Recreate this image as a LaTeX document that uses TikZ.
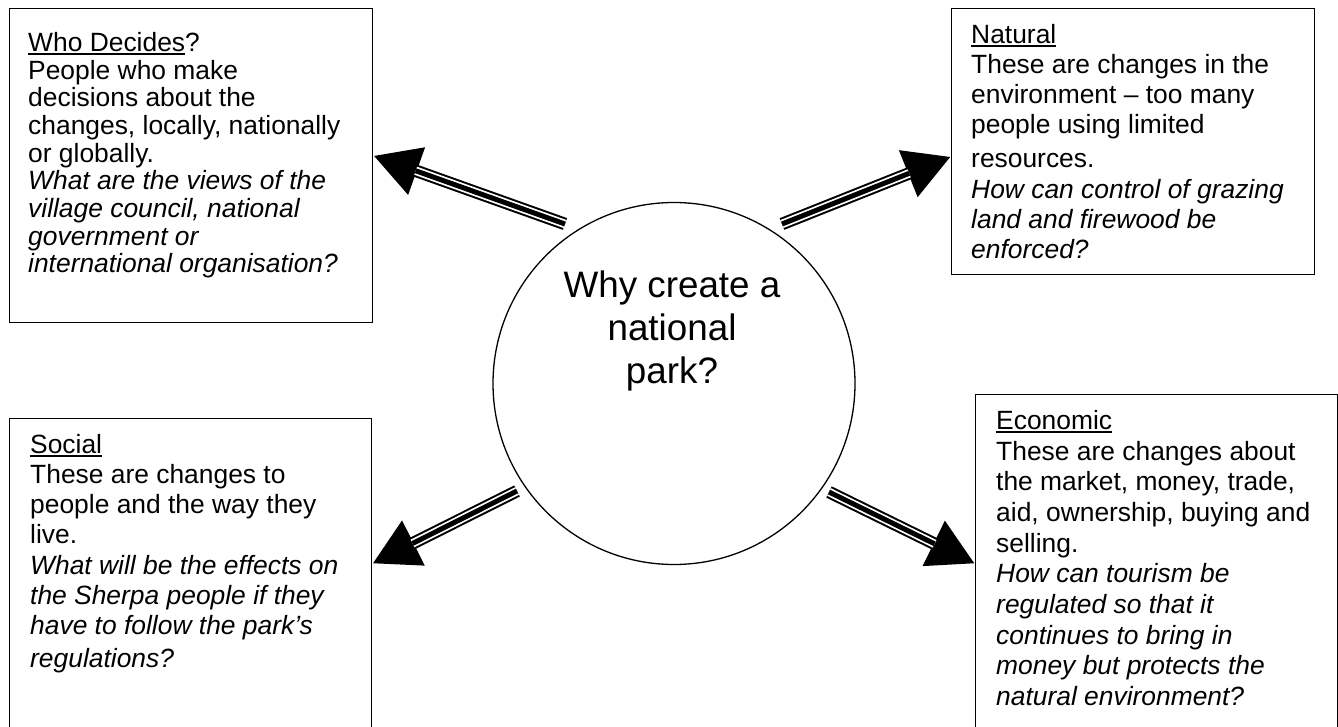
\documentclass[tikz,border=0pt]{standalone}
\usepackage{fontspec}
\setmainfont{Liberation Sans}
\usetikzlibrary{arrows.meta}
\newcommand\ulhead[1]{\setbox0\hbox{#1}\rlap{\rule[-3.8pt]{\wd0}{1.9pt}}\box0}
\begin{document}
\begin{tikzpicture}[x=1pt,y=-1pt,
  box/.style={draw, line width=1.3pt, rectangle, inner sep=0pt, anchor=north west},
  txt/.style={anchor=north west, inner sep=0pt, align=left, font=\fontsize{26.4pt}{#1}\selectfont},
  ctxt/.style={anchor=north, inner sep=0pt, align=center, font=\fontsize{36.8pt}{43pt}\selectfont},
  arr/.style={line width=12.5pt, -{Triangle[length=46pt,width=47pt]},
    postaction={draw=white, line width=8.5pt, shorten >=45pt, -},
    postaction={draw=black, line width=5pt, shorten >=45pt, -}}]
\useasboundingbox (0,0) rectangle (1338,727);
\clip (0,0) rectangle (1338,727);
% boxes
\node[box, minimum width=363pt, minimum height=314pt] (wd) at (9,8) {};
\node[box, minimum width=363pt, minimum height=266pt] (nat) at (951,8) {};
\node[box, minimum width=362pt, minimum height=314pt] (soc) at (9,418) {};
\node[box, minimum width=361.5pt, minimum height=338pt] (eco) at (975,394) {};
% centre circle
\node[draw, circle, line width=1.3pt, minimum size=362pt, inner sep=0pt] (c) at (674,383.5) {};
\node[ctxt] (ct) at (672,270.7) {Why create a\\national\\park?};
% texts
\node[txt=27.7pt] (wdt) at (28,32) {\ulhead{Who Decides}?\\People who make\\decisions about the\\changes, locally, nationally\\or globally.\\\textit{What are the views of the}\\\textit{village council, national}\\\textit{government or}\\\textit{international organisation?}};
\node[txt=30.3pt] (natt) at (971,23.7) {\ulhead{Natural}\\These are changes in the\\environment – too many\\people using limited\\[3.5pt]resources.\\\textit{How can control of grazing}\\\textit{land and firewood be}\\\textit{enforced?}};
\node[txt=30.3pt] (soct) at (30,433.7) {\ulhead{Social}\\These are changes to\\people and the way they\\live.\\\textit{What will be the effects on}\\\textit{the Sherpa people if they}\\\textit{have to follow the park’s}\\[2.5pt]\textit{regulations?}};
\node[txt=30.7pt] (ecot) at (996,410) {\ulhead{Economic}\\These are changes about\\the market, money, trade,\\aid, ownership, buying and\\selling.\\\textit{How can tourism be}\\\textit{regulated so that it}\\\textit{continues to bring in}\\\textit{money but protects the}\\\textit{natural environment?}};
% arrow tails
\coordinate (t1) at (565,224);
\coordinate (t2) at (782,224);
\coordinate (t3) at (517,491);
\coordinate (t4) at (829,492);
\draw[arr] (t1) -- ([yshift=10pt]wd.east);
\draw[arr] (t2) -- ([yshift=-15pt]nat.west);
\draw[arr] (t3) -- ([yshift=12pt]soc.east);
\draw[arr] (t4) -- (eco.west);
\end{tikzpicture}
\end{document}
